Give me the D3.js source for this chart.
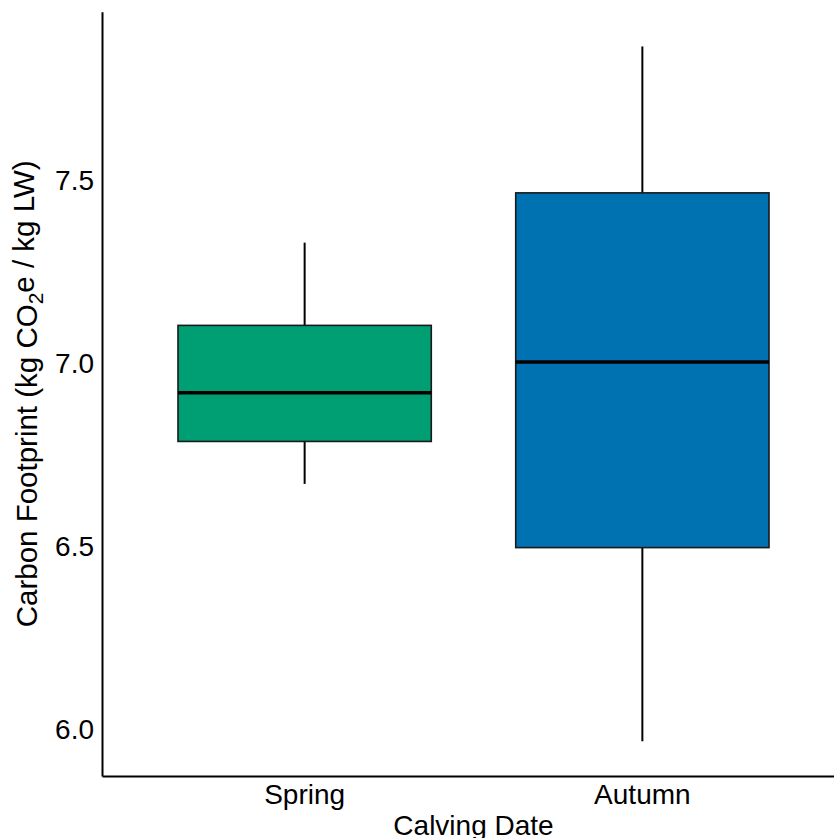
<!DOCTYPE html>
<html>
<head>
<meta charset="utf-8">
<script src="https://cdn.jsdelivr.net/npm/d3@7"></script>
<style>
  html, body { margin: 0; padding: 0; background: #fff; }
  svg { display: block; }
  text { font-family: "Liberation Sans", Arial, sans-serif; fill: #000; }
</style>
</head>
<body>
<svg id="chart" width="834" height="838"></svg>
<script>
// ---- data ----
const categories = ["Spring", "Autumn"];
const whiskerLow = [6.670, 5.967];
const q1 = [6.786, 6.496];
const median = [6.919, 7.003];
const q3 = [7.103, 7.465];
const whiskerHigh = [7.329, 7.865];
const fillColors = ["#009E73", "#0072B2"];
const yTicks = [6.0, 6.5, 7.0, 7.5];
const xTitle = "Calving Date";

// ---- layout ----
const svg = d3.select("#chart");
const mLeft = 102, mRight = 845, mTop = 11.7, mBottom = 776;

const lo = d3.min(whiskerLow), hi = d3.max(whiskerHigh);
const pad = (hi - lo) * 0.05;
const y = d3.scaleLinear().domain([lo - pad, hi + pad]).range([mBottom, mTop]);
const x = d3.scaleBand().domain(categories).range([mLeft, mRight])
  .paddingInner(0.25).paddingOuter(0.225);

const boxes = categories.map((c, i) => ({
  cat: c, lo: whiskerLow[i], q1: q1[i], med: median[i], q3: q3[i], hi: whiskerHigh[i], fill: fillColors[i]
}));

const g = svg.append("g");
const cx = d => x(d.cat) + x.bandwidth() / 2;

// whiskers
g.selectAll("line.wl").data(boxes).enter().append("line")
  .attr("x1", cx).attr("x2", cx)
  .attr("y1", d => y(d.lo)).attr("y2", d => y(d.q1))
  .attr("stroke", "#000").attr("stroke-width", 2);
g.selectAll("line.wh").data(boxes).enter().append("line")
  .attr("x1", cx).attr("x2", cx)
  .attr("y1", d => y(d.hi)).attr("y2", d => y(d.q3))
  .attr("stroke", "#000").attr("stroke-width", 2);

// boxes
g.selectAll("rect.box").data(boxes).enter().append("rect")
  .attr("x", d => x(d.cat)).attr("width", x.bandwidth())
  .attr("y", d => y(d.q3)).attr("height", d => y(d.q1) - y(d.q3))
  .attr("fill", d => d.fill).attr("stroke", "#1a1a1a").attr("stroke-width", 1.6);

// medians
g.selectAll("line.med").data(boxes).enter().append("line")
  .attr("x1", d => x(d.cat)).attr("x2", d => x(d.cat) + x.bandwidth())
  .attr("y1", d => y(d.med)).attr("y2", d => y(d.med))
  .attr("stroke", "#000").attr("stroke-width", 3.4);

// axes
const yAxis = d3.axisLeft(y).tickValues(yTicks).tickFormat(d3.format(".1f"))
  .tickSize(0).tickPadding(8);
const ya = svg.append("g").attr("transform", `translate(${mLeft},0)`).call(yAxis);
ya.select(".domain").attr("stroke", "#000").attr("stroke-width", 2);
ya.selectAll(".tick text").style("font-size", "28px").attr("dy", "0.35em")
  .style("font-family", "'Liberation Sans', Arial, sans-serif").attr("fill", "#000");

const xAxis = d3.axisBottom(x).tickSize(0).tickPadding(8);
const xa = svg.append("g").attr("transform", `translate(0,${mBottom})`).call(xAxis);
xa.select(".domain").attr("stroke", "#000").attr("stroke-width", 2);
xa.selectAll(".tick text").style("font-size", "28px").attr("dy", "0.71em")
  .style("font-family", "'Liberation Sans', Arial, sans-serif").attr("fill", "#000");

// titles
svg.append("text")
  .attr("x", (mLeft + mRight) / 2).attr("y", 835)
  .attr("text-anchor", "middle").style("font-size", "28px")
  .text(xTitle);

const yt = svg.append("text")
  .attr("transform", `translate(37,${(mTop + mBottom) / 2}) rotate(-90)`)
  .attr("text-anchor", "middle").style("font-size", "29.5px");
yt.append("tspan").text("Carbon Footprint (kg CO");
yt.append("tspan").attr("dy", "0.3em").style("font-size", "21px").text("2");
yt.append("tspan").attr("dy", "-0.3em").text("e / kg LW)");
</script>
</body>
</html>
